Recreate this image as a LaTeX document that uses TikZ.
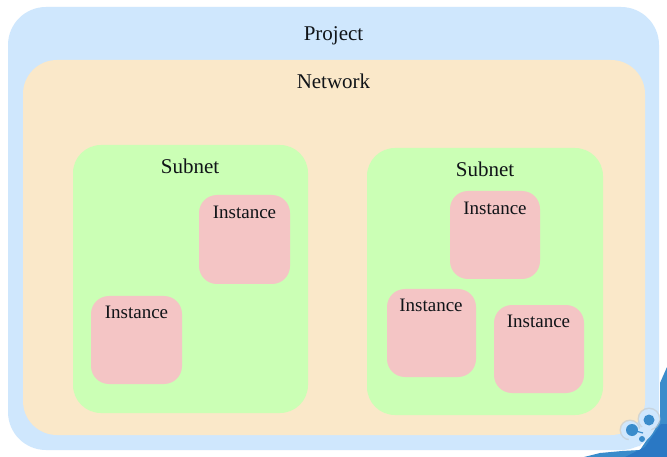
\documentclass[tikz,border=0pt]{standalone}
\usepackage{fontspec}
\setmainfont{Liberation Serif}
\definecolor{projblue}{HTML}{CFE7FD}
\definecolor{netcream}{HTML}{FAE8C9}
\definecolor{subgreen}{HTML}{CBFFB5}
\definecolor{instpink}{HTML}{F4C5C5}
\definecolor{cornerblue}{HTML}{3A8CCB}
\definecolor{cornerdark}{HTML}{2A78C4}
\definecolor{logogrey}{HTML}{C4CDD3}
\definecolor{inktext}{HTML}{101418}
\tikzset{
  font={\fontsize{19pt}{22}\selectfont},
  every node/.style={inner sep=0pt,text=inktext},
  biglabel/.style={font={\fontsize{21pt}{22}\selectfont}},
  project/.style={fill=projblue,rounded corners=38pt},
  network/.style={fill=netcream,rounded corners=34pt},
  subnet/.style={fill=subgreen,rounded corners=28pt},
  instance/.style={fill=instpink,rounded corners=18pt}}

\begin{document}
\begin{tikzpicture}[x=1pt,y=-1pt]
\useasboundingbox (0,0) rectangle (667,457);
\fill [white] (0,0) rectangle (667,457);
% corner of the slide behind
\fill [cornerblue] (667,367) -- (660,383) -- (660,420) -- (640,450) -- (622,451) -- (600,453) -- (584,457) -- (667,457) -- cycle;
\fill [cornerdark] (661,424) -- (645,447) -- (625,457) -- (667,457) -- (667,424) -- cycle;
\node [project,minimum width=651pt,minimum height=443pt] (project) at (333.5,228.5) {};
\node [network,minimum width=622pt,minimum height=375pt] (network) at (334,247.5) {};
\node [subnet,minimum width=235pt,minimum height=268pt] (subnetA) at (190.5,279) {};
\node [subnet,minimum width=236pt,minimum height=267pt] (subnetB) at (485,281.5) {};
\node [instance,minimum width=91pt,minimum height=89pt] (instA) at (244.5,239.5) {};
\node [instance,minimum width=91pt,minimum height=88pt] (instB) at (136.5,340) {};
\node [instance,minimum width=90pt,minimum height=88pt] (instC) at (495,235) {};
\node [instance,minimum width=89pt,minimum height=88pt] (instD) at (431.5,333) {};
\node [instance,minimum width=90pt,minimum height=88pt] (instE) at (539,349) {};
% labels
\node [biglabel] at (333.5,36) {Project};
\node [biglabel] at (333.5,81) {Network};
\node [biglabel] at (190,166.5) {Subnet};
\node [biglabel] at (485,169.5) {Subnet};
\node at (244.5,212) {Instance};
\node at (136.5,312.5) {Instance};
\node at (495,208) {Instance};
\node at (431,305) {Instance};
\node at (538.5,321) {Instance};
% logo
\fill [logogrey,fill opacity=0.7] (649,419) circle (11.5);
\fill [logogrey,fill opacity=0.7] (630,430) circle (10.5);
\fill [projblue] (649,419) circle (10);
\fill [projblue] (630,430) circle (9);
\fill [projblue] (642,427) -- (652,428) -- (640,446) -- (626,448) -- (630,436) -- cycle;
\fill [cornerblue] (649,420) circle (5.5);
\fill [cornerblue] (632,430) circle (6);
\fill [cornerblue] (642,439) circle (3);
\draw [cornerblue,line width=1.2pt] (632,430) -- (643,433);
\end{tikzpicture}
\end{document}
